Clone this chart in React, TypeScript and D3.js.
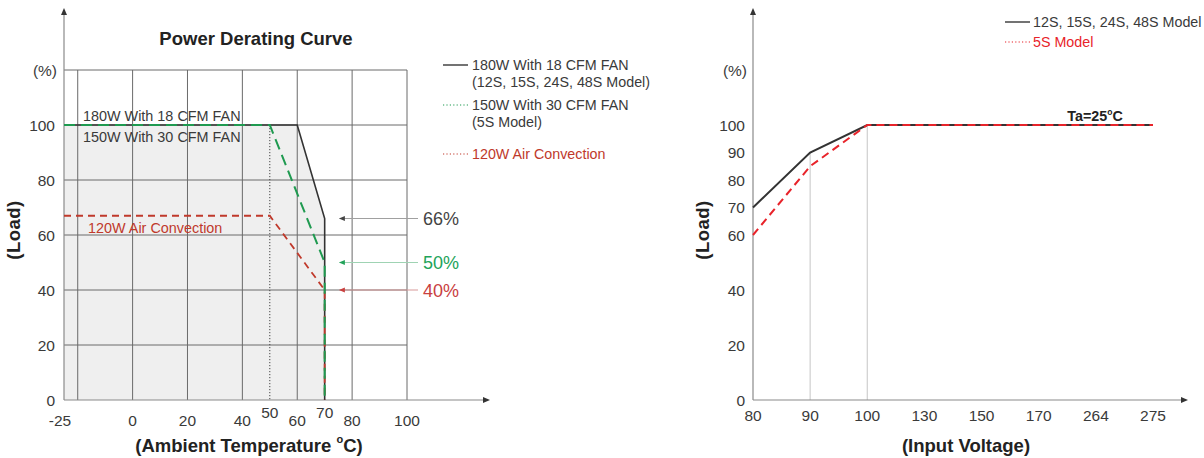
import React from "react";
import * as d3 from "d3";

// ---------- Left chart data ----------
const tempTicks = [-25, 0, 20, 40, 60, 80, 100];
const tempRaisedTicks = [50, 70];
const tempGrid = [-20, 0, 20, 40, 60, 80, 100];
const loadTicksLeft = [0, 20, 40, 60, 80, 100];
const loadGridLeft = [20, 40, 60, 80, 100, 120];

const fan18: [number, number][] = [[-25, 100], [60, 100], [70, 66], [70, 0]];
const fan30: [number, number][] = [[-25, 100], [50, 100], [70, 50], [70, 0]];
const convection: [number, number][] = [[-25, 67], [50, 67], [70, 40], [70, 0]];

const annotations = [
  { value: 66, label: "66%", color: "#444444", line: "#a0a0a0" },
  { value: 50, label: "50%", color: "#22a35a", line: "#9fd3b3" },
  { value: 40, label: "40%", color: "#c9403f", line: "#d89a9a" },
];

// ---------- Right chart data ----------
const voltCats = ["80", "90", "100", "130", "150", "170", "264", "275"];
const loadTicksRight = [0, 20, 40, 60, 70, 80, 90, 100];
const modelStd: [string, number][] = [["80", 70], ["90", 90], ["100", 100], ["275", 100]];
const model5S: [string, number][] = [["80", 60], ["90", 85], ["100", 100], ["275", 100]];
const voltGuides: [string, number][] = [["90", 90], ["100", 100]];

const FONT = "'Liberation Sans', Arial, Helvetica, sans-serif";
const TXT = "#3a3a3a";
const TICK = 15.5;
const LEG = 14.3;
const AXT = 18.5;

export default function App() {
  // Left scales
  const xL = d3.scaleLinear().domain([-25, 100]).range([64, 407]);
  const yL = d3.scaleLinear().domain([0, 120]).range([400, 70]);
  const lineL = d3.line<[number, number]>().x((d) => xL(d[0])).y((d) => yL(d[1]));
  const areaL = d3
    .area<[number, number]>()
    .x((d) => xL(d[0]))
    .y0(yL(0))
    .y1((d) => yL(d[1]));

  // Right scales
  const xR = d3.scalePoint<string>().domain(voltCats).range([753, 1153]);
  const yR = d3.scaleLinear().domain([0, 120]).range([400, 70]);
  const lineR = d3
    .line<[string, number]>()
    .x((d) => xR(d[0]) as number)
    .y((d) => yR(d[1]));

  const gridColor = "#6a6a6a";
  const axisColor = "#8a8a8a";

  const arrowUp = (x: number, y: number) => `M${x - 3},${y + 7}L${x},${y}L${x + 3},${y + 7}Z`;
  const arrowRight = (x: number, y: number) => `M${x - 7},${y - 3}L${x},${y}L${x - 7},${y + 3}Z`;
  const arrowLeft = (x: number, y: number) => `M${x + 6},${y - 2.5}L${x},${y}L${x + 6},${y + 2.5}Z`;

  return (
    <svg
      width={1204}
      height={458}
      style={{ position: "absolute", left: 0, top: 0, background: "#fff" }}
      fontFamily={FONT}
    >
      {/* ================= LEFT CHART ================= */}
      <text x={256} y={45} textAnchor="middle" fontWeight="bold" fontSize={18.5} fill="#222">
        Power Derating Curve
      </text>

      {/* fill under black curve */}
      <path d={areaL(fan18) as string} fill="#efefef" />

      {/* grid */}
      {tempGrid.map((t) => (
        <line key={"vg" + t} x1={xL(t)} x2={xL(t)} y1={yL(120)} y2={yL(0)} stroke={gridColor} strokeWidth={1} />
      ))}
      {loadGridLeft.map((v) => (
        <line key={"hg" + v} x1={xL(-25)} x2={xL(100)} y1={yL(v)} y2={yL(v)} stroke={gridColor} strokeWidth={1} />
      ))}
      {/* dotted line at 50 */}
      <line x1={xL(50)} x2={xL(50)} y1={yL(100)} y2={yL(0)} stroke="#444" strokeWidth={1} strokeDasharray="1.2,1.8" />

      {/* axes */}
      <line x1={xL(-25)} x2={xL(-25)} y1={yL(0)} y2={12} stroke={axisColor} strokeWidth={1.2} />
      <path d={arrowUp(xL(-25), 8)} fill="#333" />
      <line x1={xL(-25)} x2={486} y1={yL(0)} y2={yL(0)} stroke={axisColor} strokeWidth={1.2} />
      <path d={arrowRight(490, yL(0))} fill="#333" />

      {/* curves */}
      <path d={lineL(fan18) as string} fill="none" stroke="#333" strokeWidth={1.6} />
      <path d={lineL(convection) as string} fill="none" stroke="#c0392b" strokeWidth={1.8} strokeDasharray="7,5" />
      <path d={lineL(fan30) as string} fill="none" stroke="#1f9a50" strokeWidth={2} strokeDasharray="11,6" />

      {/* in-chart labels */}
      <text x={83} y={121} fontSize={14.4} fill={TXT}>180W With 18 CFM FAN</text>
      <text x={83} y={142} fontSize={14.4} fill={TXT}>150W With 30 CFM FAN</text>
      <text x={88} y={233} fontSize={14.4} fill="#c0392b">120W Air Convection</text>

      {/* annotations */}
      {annotations.map((a) => (
        <g key={a.label}>
          <line x1={xL(77) - 4} x2={418} y1={yL(a.value)} y2={yL(a.value)} stroke={a.line} strokeWidth={1.2} />
          <path d={arrowLeft(xL(77) - 5, yL(a.value))} fill={a.color} />
          <text x={423} y={yL(a.value) + 6.5} fontSize={18} fill={a.color}>{a.label}</text>
        </g>
      ))}

      {/* tick labels */}
      {loadTicksLeft.map((v) => (
        <text key={"ly" + v} x={55} y={yL(v) + 5.5} textAnchor="end" fontSize={TICK} fill={TXT}>{v}</text>
      ))}
      <text x={57} y={76} textAnchor="end" fontSize={TICK} fill={TXT}>(%)</text>
      {tempTicks.map((t) => (
        <text key={"lx" + t} x={xL(t) + (t === -25 ? -4 : 0)} y={426} textAnchor="middle" fontSize={TICK} fill={TXT}>{t}</text>
      ))}
      {tempRaisedTicks.map((t) => (
        <text key={"lr" + t} x={xL(t)} y={418} textAnchor="middle" fontSize={TICK} fill={TXT}>{t}</text>
      ))}

      {/* axis titles */}
      <text x={249} y={452} textAnchor="middle" fontWeight="bold" fontSize={AXT} fill="#222">
        (Ambient Temperature <tspan fontSize={11} dy={-9}>o</tspan><tspan dy={9}>C)</tspan>
      </text>
      <text transform="translate(20,230) rotate(-90)" textAnchor="middle" fontWeight="bold" fontSize={AXT} fill="#222" letterSpacing={0.5}>
        (Load)
      </text>

      {/* legend */}
      <line x1={443} x2={468} y1={65} y2={65} stroke="#444" strokeWidth={1.5} />
      <text x={472} y={70} fontSize={LEG} fill={TXT}>180W With 18 CFM FAN</text>
      <text x={472} y={87} fontSize={LEG} fill={TXT}>(12S, 15S, 24S, 48S Model)</text>
      <line x1={443} x2={468} y1={105} y2={105} stroke="#1f9a50" strokeWidth={1.2} strokeDasharray="1.2,2.2" />
      <text x={472} y={110} fontSize={LEG} fill={TXT}>150W With 30 CFM FAN</text>
      <text x={472} y={127} fontSize={LEG} fill={TXT}>(5S Model)</text>
      <line x1={443} x2={468} y1={154} y2={154} stroke="#c0392b" strokeWidth={1.2} strokeDasharray="1.2,2.2" />
      <text x={472} y={159} fontSize={LEG} fill="#c0392b">120W Air Convection</text>

      {/* ================= RIGHT CHART ================= */}
      {voltGuides.map(([c, v]) => (
        <line key={"vgR" + c} x1={xR(c) as number} x2={xR(c) as number} y1={yR(v)} y2={yR(0)} stroke="#cfcfcf" strokeWidth={1.2} />
      ))}

      <line x1={xR("80") as number} x2={xR("80") as number} y1={yR(0)} y2={12} stroke={axisColor} strokeWidth={1.2} />
      <path d={arrowUp(xR("80") as number, 8)} fill="#333" />
      <line x1={xR("80") as number} x2={1183} y1={yR(0)} y2={yR(0)} stroke={axisColor} strokeWidth={1.2} />
      <path d={arrowRight(1188, yR(0))} fill="#333" />

      <path d={lineR(modelStd) as string} fill="none" stroke="#333" strokeWidth={2} />
      <path d={lineR(model5S) as string} fill="none" stroke="#e8232a" strokeWidth={2} strokeDasharray="8,5" />

      <text x={1095} y={121} textAnchor="middle" fontWeight="bold" fontSize={14.3} fill="#222">
        Ta=25<tspan fontSize={8.5} dy={-6}>o</tspan><tspan dy={6}>C</tspan>
      </text>

      {loadTicksRight.map((v) => (
        <text key={"ry" + v} x={745} y={yR(v) + 5.5} textAnchor="end" fontSize={TICK} fill={TXT}>{v}</text>
      ))}
      <text x={747} y={76} textAnchor="end" fontSize={TICK} fill={TXT}>(%)</text>
      {voltCats.map((c) => (
        <text key={"rx" + c} x={xR(c) as number} y={421} textAnchor="middle" fontSize={TICK} fill={TXT}>{c}</text>
      ))}

      <text x={966} y={452} textAnchor="middle" fontWeight="bold" fontSize={AXT} fill="#222">(Input Voltage)</text>
      <text transform="translate(709,230) rotate(-90)" textAnchor="middle" fontWeight="bold" fontSize={AXT} fill="#222" letterSpacing={0.5}>
        (Load)
      </text>

      {/* right legend */}
      <line x1={1005} x2={1030} y1={22} y2={22} stroke="#444" strokeWidth={1.5} />
      <text x={1033} y={27} fontSize={LEG} fill={TXT}>12S, 15S, 24S, 48S Model</text>
      <line x1={1005} x2={1030} y1={42} y2={42} stroke="#e8232a" strokeWidth={1.2} strokeDasharray="1.2,2.2" />
      <text x={1033} y={47} fontSize={LEG} fill="#e8232a">5S Model</text>
    </svg>
  );
}
